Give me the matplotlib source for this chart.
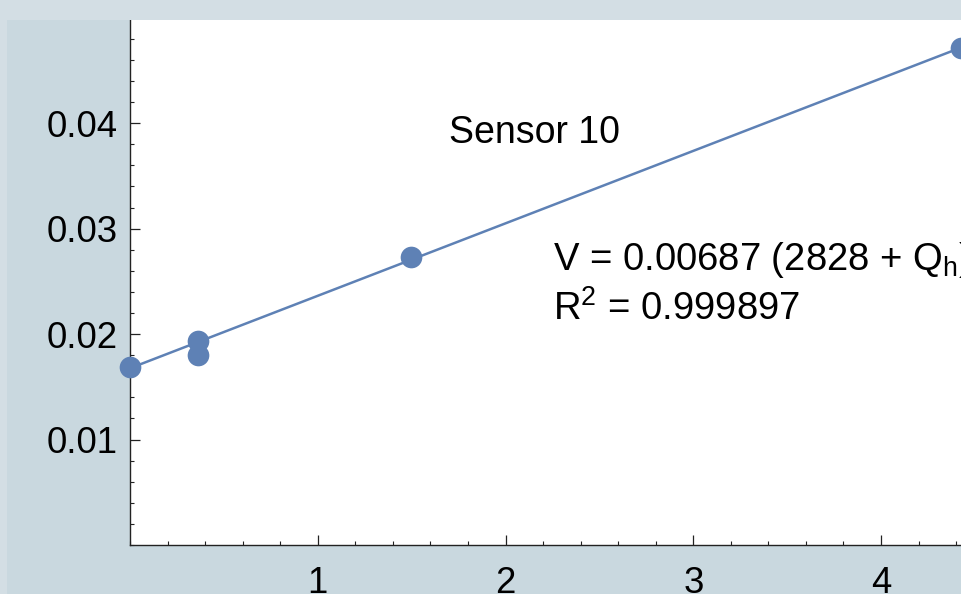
import matplotlib
matplotlib.use("Agg")
import matplotlib.pyplot as plt
from matplotlib.patches import Rectangle
from matplotlib.ticker import MultipleLocator

# measured points (Q_h, V)
q_values = [0.0, 0.363, 0.363, 1.495, 4.426]
v_values = [0.01686, 0.01933, 0.01797, 0.02728, 0.04712]

# fitted line V = intercept + slope * Q
fit_slope = 0.00687
fit_intercept = 0.01676
fit_q = [0.0, 4.426]

x_ticks = [1, 2, 3, 4]
y_ticks = [0.01, 0.02, 0.03, 0.04]
y_tick_labels = ["0.01", "0.02", "0.03", "0.04"]

blue = "#5e81b5"
plt.rcParams["font.family"] = ["Liberation Sans", "DejaVu Sans"]
plt.rcParams["mathtext.fontset"] = "custom"
plt.rcParams["mathtext.rm"] = "Liberation Sans"
plt.rcParams["mathtext.it"] = "Liberation Sans:italic"

fig = plt.figure(figsize=(9.61, 5.94), dpi=100, facecolor="#c9d8df")
# lighter frame strips at top and left
fig.patches.append(Rectangle((0, 0.9663), 1, 0.04, transform=fig.transFigure,
                             facecolor="#d3dee4", edgecolor="none", zorder=0))
fig.patches.append(Rectangle((0, 0), 0.0075, 1, transform=fig.transFigure,
                             facecolor="#d3dee4", edgecolor="none", zorder=0))

ax = fig.add_axes([0.1353, 0.0825, 0.8647, 0.8838])
ax.set_facecolor("white")

fit_v = [fit_intercept + fit_slope * q for q in fit_q]
ax.plot(fit_q, fit_v, color=blue, lw=1.8, zorder=3, clip_on=False)
ax.plot(q_values, v_values, "o", color=blue, ms=15.6, mec="none",
        zorder=4, clip_on=False)

ax.set_xlim(0, 4.426)
ax.set_ylim(0, 0.04978)

ax.spines["top"].set_visible(False)
ax.spines["right"].set_visible(False)
for s in ["left", "bottom"]:
    ax.spines[s].set_linewidth(1.0)
    ax.spines[s].set_color("#222222")

ax.set_xticks(x_ticks)
ax.set_xticklabels([str(t) for t in x_ticks])
ax.set_yticks(y_ticks)
ax.set_yticklabels(y_tick_labels)
ax.xaxis.set_minor_locator(MultipleLocator(0.2))
ax.yaxis.set_minor_locator(MultipleLocator(0.002))
ax.tick_params(which="major", direction="in", length=7, width=0.9,
               color="#222222", labelsize=26.3)
ax.tick_params(which="minor", direction="in", length=3, width=0.8,
               color="#222222")
ax.tick_params(axis="x", which="major", pad=15)
ax.tick_params(axis="y", which="major", pad=9)

ax.text(1.70, 0.0391, "Sensor 10", fontsize=27, va="center", ha="left")
ax.text(2.255, 0.0270, r"V = 0.00687 (2828 + Q$_\mathregular{h}$)",
        fontsize=27.5, va="center", ha="left", clip_on=False)
ax.text(2.255, 0.0224, r"R$^\mathregular{2}$ = 0.999897",
        fontsize=27.5, va="center", ha="left")

fig.savefig("out.png", dpi=100, facecolor=fig.get_facecolor())
